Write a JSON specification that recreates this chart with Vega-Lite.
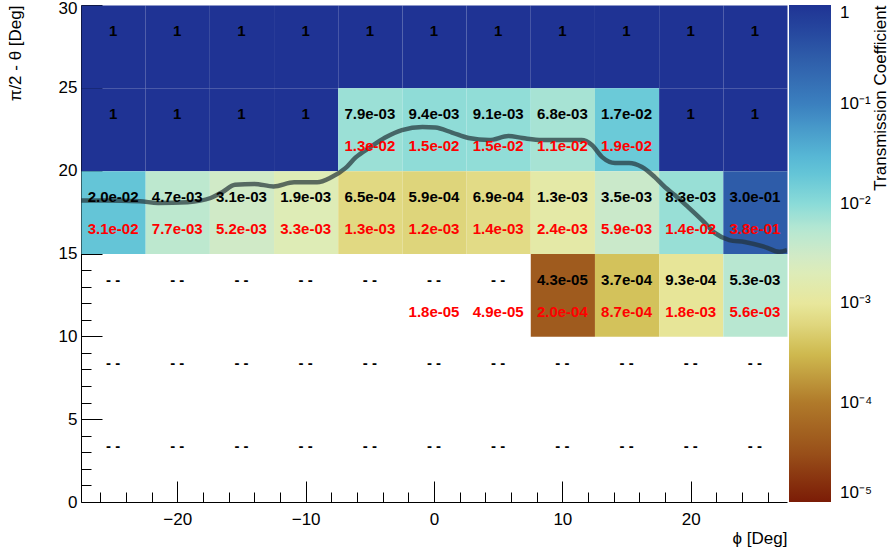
{
  "$schema": "https://vega.github.io/schema/vega-lite/v6.json",
  "width": 706,
  "height": 497,
  "autosize": "none",
  "padding": {"left": 81, "top": 5, "right": 104, "bottom": 54},
  "background": "white",
  "config": {
    "font": "Liberation Sans",
    "view": {"stroke": null},
    "axis": {
      "zindex": 1, "grid": false,
      "labelFont": "Liberation Sans", "labelFontSize": 17, "labelColor": "black",
      "titleFont": "Liberation Sans", "titleFontSize": 17, "titleFontWeight": "normal", "titleColor": "black",
      "domainColor": "black", "tickColor": "black", "tickWidth": 1, "domainWidth": 1
    }
  },
  "datasets": {
    "cells": [
      {"phi": -25, "th": 27.5, "t": 1, "tl": "1", "r": null, "rl": null},
      {"phi": -20, "th": 27.5, "t": 1, "tl": "1", "r": null, "rl": null},
      {"phi": -15, "th": 27.5, "t": 1, "tl": "1", "r": null, "rl": null},
      {"phi": -10, "th": 27.5, "t": 1, "tl": "1", "r": null, "rl": null},
      {"phi": -5, "th": 27.5, "t": 1, "tl": "1", "r": null, "rl": null},
      {"phi": 0, "th": 27.5, "t": 1, "tl": "1", "r": null, "rl": null},
      {"phi": 5, "th": 27.5, "t": 1, "tl": "1", "r": null, "rl": null},
      {"phi": 10, "th": 27.5, "t": 1, "tl": "1", "r": null, "rl": null},
      {"phi": 15, "th": 27.5, "t": 1, "tl": "1", "r": null, "rl": null},
      {"phi": 20, "th": 27.5, "t": 1, "tl": "1", "r": null, "rl": null},
      {"phi": 25, "th": 27.5, "t": 1, "tl": "1", "r": null, "rl": null},

      {"phi": -25, "th": 22.5, "t": 1, "tl": "1", "r": null, "rl": null},
      {"phi": -20, "th": 22.5, "t": 1, "tl": "1", "r": null, "rl": null},
      {"phi": -15, "th": 22.5, "t": 1, "tl": "1", "r": null, "rl": null},
      {"phi": -10, "th": 22.5, "t": 1, "tl": "1", "r": null, "rl": null},
      {"phi": -5, "th": 22.5, "t": 0.0079, "tl": "7.9e-03", "r": 0.013, "rl": "1.3e-02"},
      {"phi": 0, "th": 22.5, "t": 0.0094, "tl": "9.4e-03", "r": 0.015, "rl": "1.5e-02"},
      {"phi": 5, "th": 22.5, "t": 0.0091, "tl": "9.1e-03", "r": 0.015, "rl": "1.5e-02"},
      {"phi": 10, "th": 22.5, "t": 0.0068, "tl": "6.8e-03", "r": 0.011, "rl": "1.1e-02"},
      {"phi": 15, "th": 22.5, "t": 0.017, "tl": "1.7e-02", "r": 0.019, "rl": "1.9e-02"},
      {"phi": 20, "th": 22.5, "t": 1, "tl": "1", "r": null, "rl": null},
      {"phi": 25, "th": 22.5, "t": 1, "tl": "1", "r": null, "rl": null},

      {"phi": -25, "th": 17.5, "t": 0.020, "tl": "2.0e-02", "r": 0.031, "rl": "3.1e-02"},
      {"phi": -20, "th": 17.5, "t": 0.0047, "tl": "4.7e-03", "r": 0.0077, "rl": "7.7e-03"},
      {"phi": -15, "th": 17.5, "t": 0.0031, "tl": "3.1e-03", "r": 0.0052, "rl": "5.2e-03"},
      {"phi": -10, "th": 17.5, "t": 0.0019, "tl": "1.9e-03", "r": 0.0033, "rl": "3.3e-03"},
      {"phi": -5, "th": 17.5, "t": 0.00065, "tl": "6.5e-04", "r": 0.0013, "rl": "1.3e-03"},
      {"phi": 0, "th": 17.5, "t": 0.00059, "tl": "5.9e-04", "r": 0.0012, "rl": "1.2e-03"},
      {"phi": 5, "th": 17.5, "t": 0.00069, "tl": "6.9e-04", "r": 0.0014, "rl": "1.4e-03"},
      {"phi": 10, "th": 17.5, "t": 0.0013, "tl": "1.3e-03", "r": 0.0024, "rl": "2.4e-03"},
      {"phi": 15, "th": 17.5, "t": 0.0035, "tl": "3.5e-03", "r": 0.0059, "rl": "5.9e-03"},
      {"phi": 20, "th": 17.5, "t": 0.0083, "tl": "8.3e-03", "r": 0.014, "rl": "1.4e-02"},
      {"phi": 25, "th": 17.5, "t": 0.30, "tl": "3.0e-01", "r": 0.38, "rl": "3.8e-01"},

      {"phi": -25, "th": 12.5, "t": null, "tl": "- -", "r": null, "rl": null},
      {"phi": -20, "th": 12.5, "t": null, "tl": "- -", "r": null, "rl": null},
      {"phi": -15, "th": 12.5, "t": null, "tl": "- -", "r": null, "rl": null},
      {"phi": -10, "th": 12.5, "t": null, "tl": "- -", "r": null, "rl": null},
      {"phi": -5, "th": 12.5, "t": null, "tl": "- -", "r": null, "rl": null},
      {"phi": 0, "th": 12.5, "t": null, "tl": "- -", "r": 0.000018, "rl": "1.8e-05"},
      {"phi": 5, "th": 12.5, "t": null, "tl": "- -", "r": 0.000049, "rl": "4.9e-05"},
      {"phi": 10, "th": 12.5, "t": 0.000043, "tl": "4.3e-05", "r": 0.0002, "rl": "2.0e-04"},
      {"phi": 15, "th": 12.5, "t": 0.00037, "tl": "3.7e-04", "r": 0.00087, "rl": "8.7e-04"},
      {"phi": 20, "th": 12.5, "t": 0.00093, "tl": "9.3e-04", "r": 0.0018, "rl": "1.8e-03"},
      {"phi": 25, "th": 12.5, "t": 0.0053, "tl": "5.3e-03", "r": 0.0056, "rl": "5.6e-03"},

      {"phi": -25, "th": 7.5, "t": null, "tl": "- -", "r": null, "rl": null},
      {"phi": -20, "th": 7.5, "t": null, "tl": "- -", "r": null, "rl": null},
      {"phi": -15, "th": 7.5, "t": null, "tl": "- -", "r": null, "rl": null},
      {"phi": -10, "th": 7.5, "t": null, "tl": "- -", "r": null, "rl": null},
      {"phi": -5, "th": 7.5, "t": null, "tl": "- -", "r": null, "rl": null},
      {"phi": 0, "th": 7.5, "t": null, "tl": "- -", "r": null, "rl": null},
      {"phi": 5, "th": 7.5, "t": null, "tl": "- -", "r": null, "rl": null},
      {"phi": 10, "th": 7.5, "t": null, "tl": "- -", "r": null, "rl": null},
      {"phi": 15, "th": 7.5, "t": null, "tl": "- -", "r": null, "rl": null},
      {"phi": 20, "th": 7.5, "t": null, "tl": "- -", "r": null, "rl": null},
      {"phi": 25, "th": 7.5, "t": null, "tl": "- -", "r": null, "rl": null},

      {"phi": -25, "th": 2.5, "t": null, "tl": "- -", "r": null, "rl": null},
      {"phi": -20, "th": 2.5, "t": null, "tl": "- -", "r": null, "rl": null},
      {"phi": -15, "th": 2.5, "t": null, "tl": "- -", "r": null, "rl": null},
      {"phi": -10, "th": 2.5, "t": null, "tl": "- -", "r": null, "rl": null},
      {"phi": -5, "th": 2.5, "t": null, "tl": "- -", "r": null, "rl": null},
      {"phi": 0, "th": 2.5, "t": null, "tl": "- -", "r": null, "rl": null},
      {"phi": 5, "th": 2.5, "t": null, "tl": "- -", "r": null, "rl": null},
      {"phi": 10, "th": 2.5, "t": null, "tl": "- -", "r": null, "rl": null},
      {"phi": 15, "th": 2.5, "t": null, "tl": "- -", "r": null, "rl": null},
      {"phi": 20, "th": 2.5, "t": null, "tl": "- -", "r": null, "rl": null},
      {"phi": 25, "th": 2.5, "t": null, "tl": "- -", "r": null, "rl": null}
    ],
    "curve": [
      {"x": -27.5, "y": 18.2}, {"x": -25.8, "y": 18.2}, {"x": -22.9, "y": 18.15}, {"x": -21.5, "y": 18.05},
      {"x": -19.2, "y": 18.1}, {"x": -17.4, "y": 18.35}, {"x": -16.5, "y": 18.7}, {"x": -15.5, "y": 19.15},
      {"x": -14.0, "y": 19.2}, {"x": -12.5, "y": 19.05}, {"x": -10.9, "y": 19.3}, {"x": -9.1, "y": 19.3},
      {"x": -8.0, "y": 19.6}, {"x": -6.9, "y": 20.15}, {"x": -6.1, "y": 20.8}, {"x": -5.0, "y": 21.4},
      {"x": -3.8, "y": 22.0}, {"x": -2.5, "y": 22.45}, {"x": -0.9, "y": 22.63}, {"x": 0.1, "y": 22.6},
      {"x": 1.4, "y": 22.3}, {"x": 2.7, "y": 21.97}, {"x": 4.3, "y": 21.85}, {"x": 5.8, "y": 22.09},
      {"x": 6.9, "y": 21.97}, {"x": 8.4, "y": 21.85}, {"x": 11.5, "y": 21.85}, {"x": 12.3, "y": 21.55},
      {"x": 13.1, "y": 20.82}, {"x": 14.1, "y": 20.46}, {"x": 15.2, "y": 20.46}, {"x": 16.2, "y": 20.22},
      {"x": 17.2, "y": 19.61}, {"x": 18.0, "y": 19.0}, {"x": 18.75, "y": 18.53}, {"x": 19.8, "y": 17.8},
      {"x": 20.9, "y": 17.0}, {"x": 21.9, "y": 16.23}, {"x": 23.0, "y": 15.81}, {"x": 24.2, "y": 15.69},
      {"x": 25.8, "y": 15.39}, {"x": 26.9, "y": 15.1}, {"x": 27.5, "y": 15.2}
    ]
  },
  "resolve": {"axis": {"x": "independent", "y": "independent"}},
  "layer": [
    {
      "data": {"name": "cells"},
      "mark": {"type": "rect", "strokeWidth": 0},
      "encoding": {
        "x": {"field": "phi", "type": "quantitative", "bin": {"step": 5, "extent": [-27.5, 27.5], "nice": false},
              "scale": {"domain": [-27.5, 27.5], "nice": false, "zero": false},
              "axis": {"orient": "bottom", "values": [-20, -10, 0, 10, 20], "format": "d", "ticks": false, "labelPadding": 9,
                       "title": "ϕ [Deg]", "titleX": 706, "titleY": 36, "titleAlign": "right", "titleBaseline": "middle", "titleAnchor": "end"}},
        "y": {"field": "th", "type": "quantitative", "bin": {"step": 5, "extent": [0, 30], "nice": false},
              "scale": {"domain": [0, 30], "nice": false, "zero": false},
              "axis": {"orient": "left", "values": [0, 5, 10, 15, 20, 25, 30], "format": "d", "ticks": false, "labelPadding": 4,
                       "labelOffset": {"condition": {"test": "datum.value == 30", "value": 3}, "value": 0},
                       "title": "π/2 - θ [Deg]", "titleX": -66, "titleY": 0, "titleAngle": -90, "titleAlign": "right", "titleBaseline": "middle", "titleAnchor": "end"}},
        "color": {"field": "t", "type": "quantitative",
                  "scale": {"type": "log", "interpolate": "rgb",
                            "domain": [0.00001, 0.0000316, 0.0001, 0.000316, 0.00063, 0.001, 0.00178, 0.00316, 0.0056, 0.01, 0.0178, 0.0316, 0.1, 0.316, 1],
                            "range": ["#7b1c06", "#99501a", "#b07a2a", "#cfbb50", "#e0d880", "#e8e79c", "#e0ecb4", "#cfeac8", "#b5e7d2", "#8adbd8", "#68c9d8", "#55b5d5", "#3b80bf", "#2d5aa8", "#1f3394"]},
                  "legend": {"orient": "none", "legendX": 708, "legendY": 0, "padding": 0, "direction": "vertical", "title": null,
                             "gradientLength": 497, "gradientThickness": 42, "gradientStrokeWidth": 0,
                             "values": [0.00001, 0.0001, 0.001, 0.01, 0.1, 1],
                             "labelExpr": "datum.value >= 0.5 ? '1' : '10⁻' + ['⁰','¹','²','³','⁴','⁵'][round(-log(datum.value)/LN10)]",
                             "labelFont": "Liberation Sans", "labelFontSize": 17, "labelColor": "black", "labelOffset": 9}}
      }
    },
    {
      "data": {"name": "curve"},
      "mark": {"type": "line", "interpolate": "monotone", "color": "#223238", "opacity": 0.7, "strokeWidth": 4.5, "clip": true},
      "encoding": {
        "x": {"field": "x", "type": "quantitative", "scale": {"domain": [-27.5, 27.5], "nice": false, "zero": false},
              "axis": {"orient": "bottom", "values": [-20, -10, 0, 10, 20], "labels": false, "domain": false, "tickSize": -21, "title": null}},
        "y": {"field": "y", "type": "quantitative", "scale": {"domain": [0, 30], "nice": false, "zero": false},
              "axis": {"orient": "left", "values": [0, 5, 10, 15, 20, 25, 30], "labels": false, "domain": false, "tickSize": -21, "title": null}}
      }
    },
    {
      "data": {"name": "cells"},
      "mark": {"type": "text", "font": "Liberation Sans", "fontWeight": "bold", "fontSize": 15, "color": "black", "dy": -15, "baseline": "middle"},
      "encoding": {
        "x": {"field": "phi", "type": "quantitative", "scale": {"domain": [-27.5, 27.5], "nice": false, "zero": false},
              "axis": {"orient": "bottom", "values": [-26, -24, -22, -18, -16, -14, -12, -8, -6, -4, -2, 2, 4, 6, 8, 12, 14, 16, 18, 22, 24, 26],
                       "labels": false, "domain": false, "tickSize": -10, "title": null}},
        "y": {"field": "th", "type": "quantitative", "scale": {"domain": [0, 30], "nice": false, "zero": false},
              "axis": {"orient": "left", "values": [1, 2, 3, 4, 6, 7, 8, 9, 11, 12, 13, 14, 16, 17, 18, 19, 21, 22, 23, 24, 26, 27, 28, 29],
                       "labels": false, "domain": false, "tickSize": -10, "title": null}},
        "text": {"field": "tl", "type": "nominal"}
      }
    },
    {
      "data": {"name": "cells"},
      "transform": [{"filter": "datum.rl != null"}],
      "mark": {"type": "text", "font": "Liberation Sans", "fontWeight": "bold", "fontSize": 15, "color": "#ff0000", "dy": 17, "baseline": "middle"},
      "encoding": {
        "x": {"field": "phi", "type": "quantitative", "scale": {"domain": [-27.5, 27.5], "nice": false, "zero": false}, "axis": null},
        "y": {"field": "th", "type": "quantitative", "scale": {"domain": [0, 30], "nice": false, "zero": false},
              "axis": {"orient": "right", "labels": false, "ticks": false, "domain": false, "values": [],
                       "title": "Transmission Coefficient", "titleX": 93, "titleY": 0, "titleAngle": -90, "titleAlign": "right", "titleBaseline": "middle", "titleAnchor": "end"}},
        "text": {"field": "rl", "type": "nominal"}
      }
    }
  ]
}
